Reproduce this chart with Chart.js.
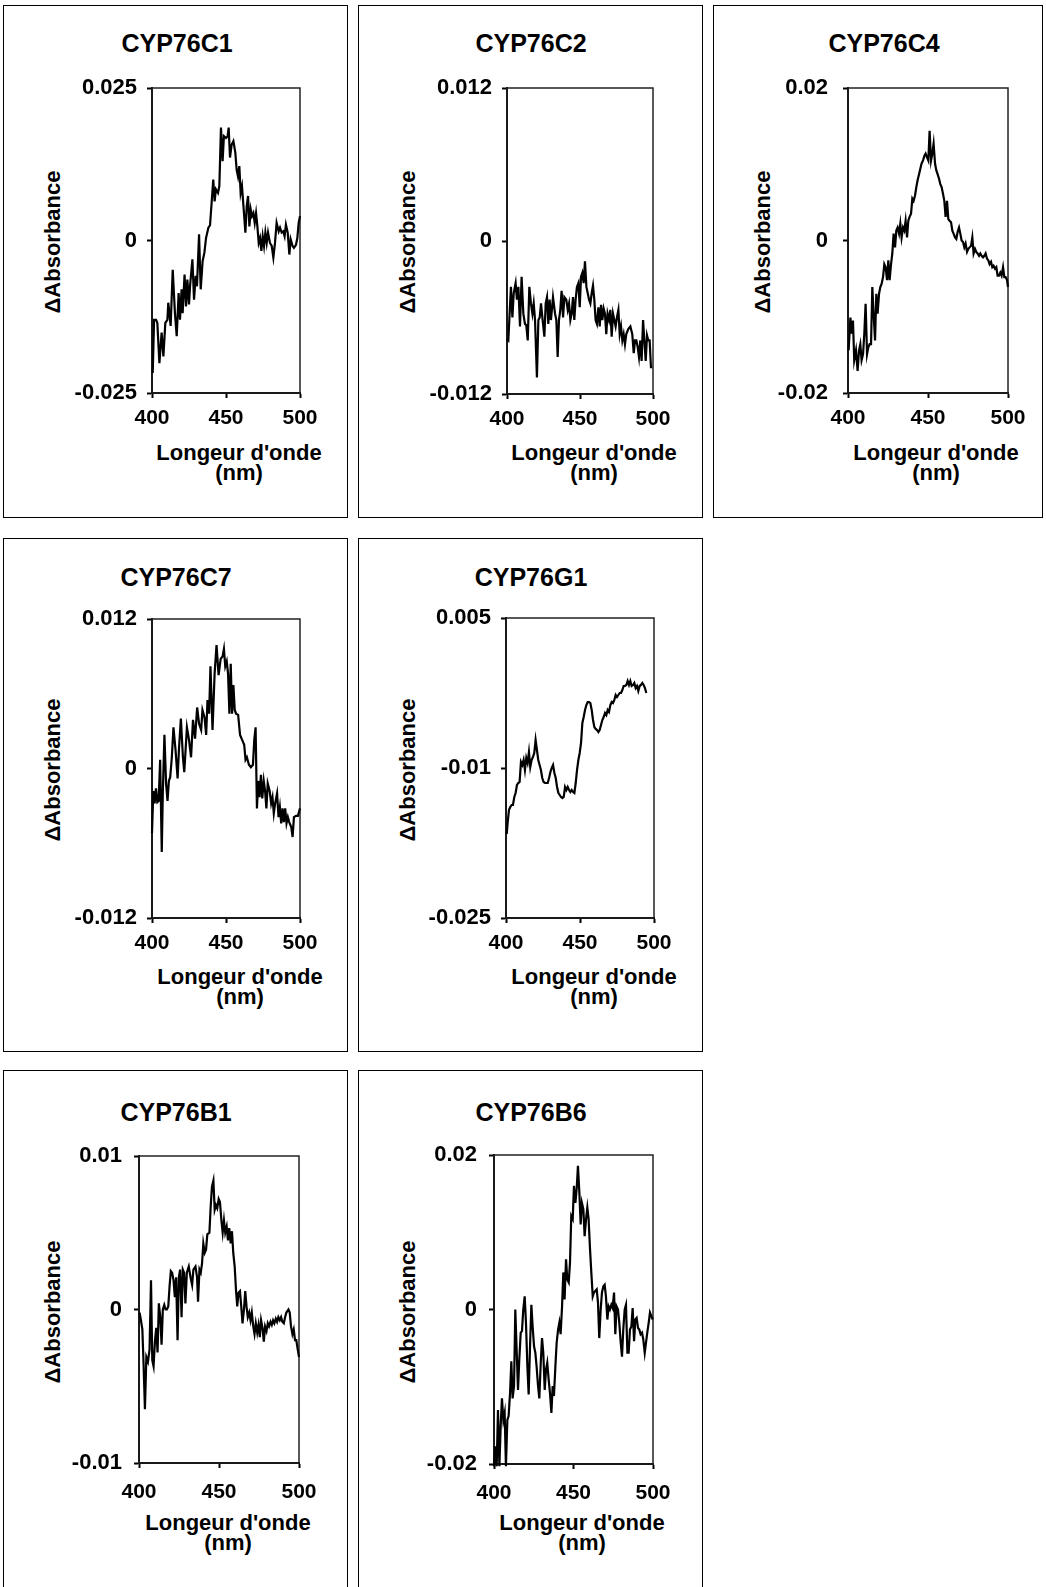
<!DOCTYPE html>
<html>
<head>
<meta charset="utf-8">
<script src="https://cdn.jsdelivr.net/npm/chart.js@4.4.0/dist/chart.umd.min.js"></script>
<style>
  html, body { margin: 0; padding: 0; background: #fff; }
  body { width: 1046px; height: 1587px; position: relative; overflow: hidden;
         font-family: "Liberation Sans", Arial, sans-serif; font-weight: bold; color: #000; }
  .box { position: absolute; border: 1.5px solid #000; box-sizing: border-box; }
  .txt { position: absolute; white-space: nowrap; transform: translate(-50%, -50%); }
  .ttl { font-size: 25px; }
  .xt { font-size: 22px; line-height: 20px; text-align: center; transform: translateX(-50%); }
  .yt { font-size: 22px; transform: translate(-50%, -50%) rotate(-90deg); }
  canvas { position: absolute; }
</style>
</head>
<body>
<script>
// longueur d'onde (nm) / delta absorbance
const xTicks = [400, 450, 500];

const yTicks_C1 = [-0.025, 0, 0.025];
const yTicks_C2 = [-0.012, 0, 0.012];
const yTicks_C4 = [-0.02, 0, 0.02];
const yTicks_C7 = [-0.012, 0, 0.012];
const yTicks_G1 = [-0.025, -0.01, 0.005];
const yTicks_B1 = [-0.01, 0, 0.01];
const yTicks_B6 = [-0.02, 0, 0.02];

const CYP76C1 = [[400.5,-0.0217],[401.4,-0.0130],[402.7,-0.0130],[403.6,-0.0135],[405,-0.0201],[406.5,-0.0151],[407.7,-0.0190],[409,-0.0135],[410.4,-0.0130],[411,-0.0102],[412.6,-0.0140],[414,-0.0048],[415.5,-0.0119],[416.7,-0.0157],[418,-0.0086],[418.9,-0.0130],[420,-0.0080],[420.7,-0.0119],[422,-0.0056],[423,-0.0108],[423.9,-0.0064],[425,-0.0105],[425.7,-0.0075],[427.3,-0.0031],[428.4,-0.0097],[429.5,-0.0058],[430.4,-0.0075],[431.8,0.0010],[432.9,-0.0080],[434.2,-0.0034],[435.4,-0.0020],[436.5,0.0004],[438.1,0.0021],[439.2,0.0025],[440.3,0.0062],[441.4,0.0100],[442.3,0.0064],[443.2,0.0084],[444.6,0.0078],[445.5,0.0089],[446.6,0.0185],[447.7,0.0130],[448.6,0.0171],[450,0.0168],[451.1,0.0171],[451.8,0.0185],[452.7,0.0136],[453.8,0.0157],[455,0.0163],[456.3,0.0144],[457.2,0.0116],[458.1,0.0105],[459,0.0122],[459.9,0.0078],[460.8,0.0089],[462.2,0.0043],[463.1,0.0013],[464,0.0056],[464.9,0.0073],[465.8,0.0023],[466.7,0.0051],[467.6,0.0040],[468.5,0.0045],[469.4,0.0029],[470.3,0.0045],[471.2,0.0023],[472.1,-0.0004],[473,0.0004],[473.9,-0.0017],[474.8,0.0007],[475.7,-0.0009],[476.6,0.0013],[477.5,-0.0004],[478.4,0.0013],[479.7,-0.0004],[480.9,-0.0009],[482,-0.0028],[483.1,-0.0004],[484.2,0.0029],[485.6,0.0015],[486.5,0.0021],[487.6,0.0013],[488.7,0.0015],[489.6,0.0007],[490.5,0.0026],[491.7,0.0013],[492.8,-0.0023],[493.7,0.0002],[495,-0.0009],[495.9,-0.0012],[497.3,-0.0007],[498.2,0.0004],[499.1,0.0029],[500,0.0040]];

const CYP76C2 = [[400,-0.0077],[400.9,-0.0078],[401.8,-0.0057],[402.7,-0.0036],[403.7,-0.0060],[404.6,-0.0041],[405.9,-0.0033],[406.8,-0.0046],[407.8,-0.0036],[408.9,-0.0067],[410,-0.0028],[411.2,-0.0057],[412.3,-0.0065],[413.2,-0.0066],[414.2,-0.0078],[415.3,-0.0036],[416.4,-0.0049],[417.4,-0.0057],[418.3,-0.0049],[419.2,-0.0062],[420.5,-0.0107],[421.5,-0.0062],[422.4,-0.0060],[423.3,-0.0049],[424.4,-0.0062],[425.6,-0.0075],[426.5,-0.0049],[427.4,-0.0044],[428.3,-0.0065],[429.2,-0.0046],[430.1,-0.0062],[431.5,-0.0044],[432.9,-0.0057],[433.8,-0.0062],[434.7,-0.0091],[435.6,-0.0062],[436.5,-0.0054],[437.4,-0.0039],[438.4,-0.0060],[439.3,-0.0044],[440.6,-0.0046],[441.6,-0.0054],[442.5,-0.0049],[443.4,-0.0062],[444.3,-0.0057],[445.2,-0.0044],[446.1,-0.0062],[447,-0.0046],[447.9,-0.0036],[448.9,-0.0033],[449.8,-0.0052],[450.7,-0.0028],[451.6,-0.0025],[452.5,-0.0033],[453.4,-0.0016],[454.4,-0.0036],[455.3,-0.0041],[456.2,-0.0046],[457.1,-0.0049],[458,-0.0041],[458.9,-0.0035],[459.8,-0.0046],[460.7,-0.0062],[461.6,-0.0065],[462.6,-0.0052],[463.5,-0.0067],[464.4,-0.0050],[465.3,-0.0062],[466.2,-0.0053],[467.1,-0.0057],[468,-0.0073],[468.9,-0.0057],[469.9,-0.0062],[470.8,-0.0054],[471.7,-0.0075],[472.6,-0.0057],[473.5,-0.0062],[474.4,-0.0067],[475.3,-0.0060],[476.3,-0.0054],[477.2,-0.0073],[478.1,-0.0067],[479,-0.0078],[479.9,-0.0073],[480.8,-0.0081],[481.7,-0.0073],[483.1,-0.0069],[484.5,-0.0067],[485.8,-0.0073],[486.8,-0.0088],[487.7,-0.0078],[488.6,-0.0078],[489.5,-0.0083],[490.4,-0.0091],[491.3,-0.0078],[492.2,-0.0094],[493.2,-0.0062],[494.1,-0.0078],[495,-0.0094],[495.9,-0.0074],[496.8,-0.0078],[497.7,-0.0078],[498.6,-0.0099],[499.5,-0.0099]];

const CYP76C4 = [[400.4,-0.0144],[401.5,-0.0101],[402.3,-0.0122],[403.1,-0.0105],[403.9,-0.0157],[405,-0.0144],[406,-0.0171],[406.9,-0.0144],[407.7,-0.0136],[408.5,-0.0157],[409.4,-0.0149],[410.2,-0.0122],[411,-0.0083],[411.9,-0.0149],[412.7,-0.0140],[413.5,-0.0136],[414.4,-0.0136],[415.2,-0.0061],[416,-0.0096],[416.9,-0.0131],[417.7,-0.0070],[418.5,-0.0096],[419.4,-0.0070],[420.2,-0.0061],[421,-0.0057],[421.9,-0.0048],[422.7,-0.0031],[423.5,-0.0035],[424.4,-0.0052],[425.2,-0.0026],[426,-0.0052],[426.9,-0.0031],[427.7,-0.0017],[428.5,0.0009],[429.4,-0.0009],[430.2,0.0013],[431,0.0017],[431.9,0.0009],[432.7,0.0022],[433.5,0.0004],[434.4,0.0017],[435.2,0.0013],[436,0.0026],[436.9,0.0004],[437.7,0.0026],[438.5,0.0031],[439.4,0.0035],[440.2,0.0055],[441,0.0052],[441.9,0.0059],[442.7,0.0070],[443.5,0.0079],[444.4,0.0087],[445.2,0.0094],[446,0.0101],[446.9,0.0105],[447.7,0.0111],[448.5,0.0114],[449.4,0.0109],[450.2,0.0105],[451,0.0144],[451.9,0.0105],[452.7,0.0114],[453.5,0.0127],[454.4,0.0101],[455.2,0.0092],[456,0.0087],[456.9,0.0081],[457.7,0.0074],[458.5,0.0070],[459.4,0.0061],[460.2,0.0052],[461,0.0031],[461.9,0.0052],[462.7,0.0028],[463.5,0.0026],[464.4,0.0024],[465.2,0.0013],[466,0.0009],[466.9,0.0004],[467.7,0.0002],[468.5,0.0011],[469.4,0.0017],[470.2,0.0009],[471,0.0000],[471.9,-0.0002],[472.7,-0.0009],[473.5,-0.0004],[474.4,-0.0015],[475.2,-0.0011],[476,-0.0009],[476.9,-0.0007],[477.7,0.0004],[478.5,-0.0017],[479.4,-0.0011],[480.2,-0.0015],[481,-0.0017],[481.9,-0.0020],[482.7,-0.0017],[483.5,-0.0020],[484.4,-0.0022],[485.2,-0.0020],[486,-0.0017],[486.9,-0.0024],[487.7,-0.0026],[488.5,-0.0031],[489.4,-0.0028],[490.2,-0.0035],[491,-0.0033],[491.9,-0.0037],[492.7,-0.0035],[493.5,-0.0046],[494.4,-0.0046],[495.2,-0.0042],[496,-0.0046],[496.9,-0.0035],[497.7,-0.0048],[498.5,-0.0048],[499.4,-0.0052],[500,-0.0061]];

const CYP76C7 = [[400,-0.0052],[400.9,-0.0018],[401.8,-0.0028],[402.7,-0.0016],[403.6,-0.0027],[404.5,-0.0026],[405.5,0.0007],[406.6,-0.0067],[407.3,-0.0020],[408.4,0.0027],[409.5,-0.0012],[410.5,-0.0026],[411.4,-0.0010],[412.3,-0.0007],[413.4,0.0009],[414.5,0.0033],[415.9,0.0015],[417.3,-0.0008],[418.2,0.0015],[419.5,0.0040],[420.9,0.0009],[421.8,-0.0003],[422.7,0.0015],[423.6,0.0033],[425,0.0023],[426.4,0.0009],[427.7,0.0039],[429.1,0.0024],[430.5,0.0049],[431.8,0.0036],[433.2,0.0031],[434.1,0.0047],[435.5,0.0041],[436.6,0.0027],[437.5,0.0055],[438.6,0.0044],[439.5,0.0082],[440.9,0.0031],[442.3,0.0076],[443.6,0.0099],[445,0.0075],[446.4,0.0088],[447.7,0.0090],[448.6,0.0096],[449.5,0.0082],[450.5,0.0086],[451.4,0.0076],[452.3,0.0044],[453.2,0.0084],[454.1,0.0044],[455,0.0067],[455.9,0.0047],[456.8,0.0044],[458.2,0.0043],[459.5,0.0027],[460.9,0.0023],[462.3,0.0019],[463.2,0.0007],[464.1,0.0009],[465.5,0.0003],[466.8,0.0001],[468.2,0.0003],[469.1,0.0023],[470,0.0033],[470.9,-0.0032],[471.8,-0.0010],[472.7,-0.0023],[473.6,-0.0005],[474.5,-0.0024],[475.5,-0.0010],[476.4,-0.0018],[477.3,-0.0032],[478.2,-0.0012],[479.5,-0.0018],[480.5,-0.0028],[481.4,-0.0023],[482.3,-0.0036],[483.2,-0.0028],[484.5,-0.0020],[485.5,-0.0039],[486.4,-0.0031],[487.3,-0.0044],[488.2,-0.0032],[489.1,-0.0043],[490,-0.0032],[490.9,-0.0044],[491.8,-0.0039],[492.7,-0.0043],[494.1,-0.0047],[495,-0.0055],[495.9,-0.0039],[497.3,-0.0038],[498.6,-0.0038],[500,-0.0032]];

const CYP76G1 = [[400.5,-0.0166],[401.1,-0.0155],[402,-0.0142],[402.9,-0.0139],[403.8,-0.0137],[404.7,-0.0137],[405.6,-0.0129],[406.5,-0.0125],[407.4,-0.0117],[408.3,-0.0115],[409.2,-0.0114],[410.1,-0.0094],[411,-0.0097],[411.9,-0.0092],[412.8,-0.0102],[413.7,-0.0090],[414.6,-0.0095],[415.5,-0.0084],[416.4,-0.0099],[417.3,-0.0092],[418.2,-0.0089],[419.1,-0.0085],[420,-0.0072],[420.9,-0.0082],[421.8,-0.0092],[422.7,-0.0097],[423.6,-0.0102],[424.5,-0.0110],[425.4,-0.0114],[426.4,-0.0115],[427.3,-0.0115],[428.2,-0.0115],[429.1,-0.0110],[430,-0.0104],[430.9,-0.0100],[431.8,-0.0097],[432.7,-0.0105],[433.6,-0.0110],[434.5,-0.0119],[435.4,-0.0125],[436.3,-0.0127],[437.2,-0.0129],[438.1,-0.0130],[439,-0.0129],[439.9,-0.0119],[440.8,-0.0122],[441.7,-0.0119],[442.6,-0.0122],[443.5,-0.0124],[444.4,-0.0122],[445.3,-0.0124],[446.2,-0.0125],[447.1,-0.0115],[448,-0.0102],[448.9,-0.0092],[449.8,-0.0085],[450.7,-0.0075],[451.6,-0.0055],[452.5,-0.0049],[453.4,-0.0042],[454.3,-0.0037],[455.2,-0.0034],[456.1,-0.0034],[457,-0.0035],[457.9,-0.0042],[458.8,-0.0052],[459.7,-0.0059],[460.6,-0.0061],[461.5,-0.0062],[462.4,-0.0064],[463.3,-0.0062],[464.2,-0.0057],[465.1,-0.0052],[466,-0.0049],[466.9,-0.0045],[467.8,-0.0047],[468.7,-0.0042],[469.6,-0.0044],[470.5,-0.0037],[471.4,-0.0034],[472.3,-0.0035],[473.2,-0.0032],[474.1,-0.0027],[475,-0.0029],[475.9,-0.0027],[476.8,-0.0025],[477.7,-0.0025],[478.6,-0.0022],[479.5,-0.0018],[480.4,-0.0018],[481.3,-0.0017],[482.2,-0.0013],[483.1,-0.0017],[484,-0.0013],[484.9,-0.0018],[485.8,-0.0017],[486.7,-0.0015],[487.6,-0.0020],[488.5,-0.0018],[489.4,-0.0023],[490.3,-0.0018],[491.2,-0.0017],[492.1,-0.0015],[493,-0.0017],[493.9,-0.0020],[494.8,-0.0025]];

const CYP76B1 = [[400.4,-0.0002],[401.2,-0.0007],[402.1,-0.0013],[402.9,-0.0037],[403.7,-0.0065],[404.6,-0.0031],[405.6,-0.0034],[406.6,-0.0026],[407.5,0.0019],[408.3,-0.0033],[409.1,-0.0037],[410,-0.0020],[410.8,-0.0012],[411.6,-0.0028],[412.4,0.0004],[413.3,-0.0005],[414.1,-0.0023],[414.9,0.0000],[415.8,0.0003],[416.6,0.0000],[417.4,0.0000],[418.3,0.0002],[419.1,0.0015],[419.9,0.0025],[420.7,0.0024],[421.6,0.0019],[422.4,0.0008],[423.2,0.0021],[424.1,-0.0020],[424.9,0.0021],[425.7,0.0026],[426.6,-0.0005],[427.4,0.0026],[428.2,0.0024],[429,0.0004],[429.9,0.0024],[431.1,0.0028],[432.2,0.0021],[433.2,0.0016],[434,0.0026],[435.3,0.0028],[436.3,0.0021],[436.9,0.0005],[437.8,0.0026],[438.6,0.0024],[439.4,0.0030],[440.2,0.0043],[441.1,0.0037],[441.9,0.0039],[442.7,0.0049],[444,0.0050],[444.8,0.0067],[445.6,0.0080],[446.5,0.0084],[447.3,0.0065],[448.1,0.0068],[448.9,0.0066],[449.8,0.0072],[450.6,0.0070],[451.5,0.0058],[452.3,0.0050],[453.1,0.0058],[453.9,0.0050],[454.8,0.0054],[455.6,0.0045],[456.4,0.0053],[457.3,0.0043],[458.1,0.0051],[458.9,0.0037],[459.8,0.0028],[460.6,0.0013],[461.4,0.0002],[462.2,0.0011],[463.1,0.0012],[463.9,0.0002],[464.7,-0.0009],[465.6,0.0000],[466.4,0.0012],[467.2,0.0002],[468,-0.0005],[468.9,-0.0002],[469.7,-0.0007],[470.5,-0.0002],[471.4,-0.0011],[472.2,-0.0016],[473,-0.0009],[473.9,-0.0015],[474.7,-0.0010],[475.5,-0.0018],[476.3,-0.0007],[477.2,-0.0012],[478,-0.0021],[478.8,-0.0011],[479.7,-0.0014],[480.5,-0.0009],[481.3,-0.0011],[482.2,-0.0008],[483,-0.0010],[483.8,-0.0007],[484.6,-0.0009],[485.5,-0.0006],[486.3,-0.0008],[487.1,-0.0005],[488,-0.0007],[488.8,-0.0005],[489.6,-0.0008],[490.5,-0.0009],[491.3,-0.0005],[492.1,-0.0002],[493.4,0.0000],[494.2,-0.0002],[495,-0.0011],[495.9,-0.0016],[496.7,-0.0013],[497.5,-0.0020],[498.3,-0.0020],[499.2,-0.0026],[500,-0.0031]];

const CYP76B6 = [[400,-0.0203],[400.8,-0.0177],[401.7,-0.0203],[402.5,-0.0130],[403.4,-0.0203],[404.2,-0.0151],[405,-0.0115],[405.9,-0.0143],[406.7,-0.0134],[407.5,-0.0203],[408.4,-0.0143],[409.2,-0.0138],[410.1,-0.0108],[410.9,-0.0067],[411.7,-0.0115],[412.6,-0.0099],[413.4,0.0000],[414.3,-0.0056],[415.1,-0.0104],[415.9,-0.0065],[416.8,-0.0030],[417.6,-0.0028],[418.4,0.0000],[419.3,0.0017],[420.1,-0.0017],[421,-0.0074],[421.8,-0.0110],[422.6,-0.0052],[423.5,0.0006],[424.3,-0.0022],[425.2,-0.0048],[426,-0.0056],[426.8,-0.0074],[427.7,-0.0099],[428.5,-0.0115],[429.4,-0.0069],[430.2,-0.0037],[431,-0.0056],[431.9,-0.0104],[432.7,-0.0078],[433.5,-0.0069],[434.4,-0.0091],[435.2,-0.0108],[436.1,-0.0134],[436.9,-0.0099],[437.7,-0.0112],[438.6,-0.0074],[439.4,-0.0043],[440.3,-0.0026],[441.1,-0.0017],[441.9,-0.0032],[442.8,0.0004],[443.6,0.0048],[444.4,0.0013],[445.3,0.0065],[446.1,0.0039],[447,0.0035],[447.8,0.0061],[448.6,0.0121],[449.5,0.0117],[450.3,0.0160],[451.2,0.0138],[452,0.0156],[452.8,0.0186],[453.7,0.0151],[454.5,0.0110],[455.3,0.0138],[456.2,0.0130],[457,0.0095],[457.9,0.0117],[458.7,0.0132],[459.5,0.0117],[460.4,0.0078],[461.2,0.0048],[462.1,0.0017],[462.9,0.0022],[463.7,0.0024],[464.6,0.0026],[465.4,0.0009],[466.2,-0.0037],[467.1,0.0000],[467.9,0.0022],[468.8,0.0030],[469.6,0.0032],[470.4,0.0017],[471.3,-0.0013],[472.1,0.0004],[472.9,0.0000],[473.8,0.0006],[474.6,0.0002],[475.5,0.0022],[476.3,-0.0032],[477.1,0.0004],[478,0.0000],[478.8,-0.0017],[479.7,-0.0043],[480.5,-0.0061],[481.3,-0.0026],[482.2,0.0000],[483,0.0006],[483.9,-0.0056],[484.7,-0.0056],[485.5,-0.0026],[486.4,-0.0022],[487.2,0.0002],[488.1,-0.0041],[488.9,-0.0013],[489.7,-0.0011],[490.6,-0.0024],[491.4,-0.0026],[492.2,-0.0032],[493.1,-0.0030],[493.9,-0.0039],[494.8,-0.0056],[495.6,-0.0043],[496.4,-0.0030],[497.3,-0.0017],[498.1,-0.0004],[499,-0.0009],[499.8,-0.0013]];

// mise en page : cadre, zone du graphe, positions des textes
const layout = [
  { name: 'CYP76C1', data: CYP76C1, ticks: yTicks_C1, box: [3, 5, 345, 513], plot: [152, 88, 300, 393], title: [177, 43], xt: [239, 453], yt: [53, 242], yPad: 10, xPad: 8 },
  { name: 'CYP76C2', data: CYP76C2, ticks: yTicks_C2, box: [358, 5, 345, 513], plot: [507, 88, 653, 394], title: [531, 43], xt: [594, 453], yt: [408, 242], yPad: 10, xPad: 8 },
  { name: 'CYP76C4', data: CYP76C4, ticks: yTicks_C4, box: [713, 5, 330, 513], plot: [848, 88, 1008, 393], title: [884, 43], xt: [936, 453], yt: [763, 242], yPad: 15, xPad: 8 },
  { name: 'CYP76C7', data: CYP76C7, ticks: yTicks_C7, box: [3, 538, 345, 514], plot: [152, 619, 300, 918], title: [176, 577], xt: [240, 977], yt: [53, 770], yPad: 10, xPad: 8 },
  { name: 'CYP76G1', data: CYP76G1, ticks: yTicks_G1, box: [358, 538, 345, 514], plot: [506, 618, 654, 918], title: [531, 577], xt: [594, 977], yt: [408, 770], yPad: 10, xPad: 8 },
  { name: 'CYP76B1', data: CYP76B1, ticks: yTicks_B1, box: [3, 1070, 345, 540], plot: [139, 1156, 299, 1463], title: [176, 1112], xt: [228, 1523], yt: [53, 1312], yPad: 12, xPad: 12 },
  { name: 'CYP76B6', data: CYP76B6, ticks: yTicks_B6, box: [358, 1070, 345, 540], plot: [494, 1155, 653, 1464], title: [531, 1112], xt: [582, 1523], yt: [408, 1312], yPad: 12, xPad: 12 }
];

const FONT = '"Liberation Sans", Arial, sans-serif';
const YW = 90, XH = 55, PT = 42, PR = 30;

Chart.defaults.font.family = FONT;
Chart.defaults.font.weight = 'bold';
Chart.defaults.color = '#000';

// cadre haut/droite de la zone de tracé
const plotFrame = {
  id: 'plotFrame',
  beforeDatasetsDraw(chart) {
    const a = chart.chartArea, ctx = chart.ctx;
    ctx.save();
    ctx.strokeStyle = '#222';
    ctx.lineWidth = 1.5;
    ctx.strokeRect(a.left, a.top, a.right - a.left, a.bottom - a.top);
    ctx.restore();
  }
};

function addText(cls, x, y, html) {
  const d = document.createElement('div');
  d.className = 'txt ' + cls;
  d.style.left = x + 'px';
  d.style.top = y + 'px';
  d.innerHTML = html;
  document.body.appendChild(d);
}

layout.forEach(function (p) {
  const box = document.createElement('div');
  box.className = 'box';
  box.style.left = p.box[0] + 'px';
  box.style.top = p.box[1] + 'px';
  box.style.width = p.box[2] + 'px';
  box.style.height = p.box[3] + 'px';
  document.body.appendChild(box);

  addText('ttl', p.title[0], p.title[1], p.name);
  addText('yt', p.yt[0], p.yt[1], '\u0394Absorbance');
  addText('xt', p.xt[0], p.xt[1] - 10, "Longeur d'onde<br>(nm)");

  const w = p.plot[2] - p.plot[0], h = p.plot[3] - p.plot[1];
  const cv = document.createElement('canvas');
  cv.width = YW + w + PR;
  cv.height = PT + h + XH;
  cv.style.left = (p.plot[0] - YW) + 'px';
  cv.style.top = (p.plot[1] - PT) + 'px';
  document.body.appendChild(cv);

  const labels = p.ticks.map(v => String(v));

  new Chart(cv, {
    type: 'line',
    data: {
      datasets: [{
        data: p.data.map(d => ({ x: d[0], y: d[1] })),
        borderColor: '#000',
        borderWidth: 2.2,
        pointRadius: 0,
        tension: 0,
        clip: false
      }]
    },
    options: {
      responsive: false,
      animation: false,
      events: [],
      layout: { padding: { top: PT, right: PR, left: 0, bottom: 0 } },
      plugins: { legend: { display: false }, tooltip: { enabled: false } },
      scales: {
        x: {
          type: 'linear',
          min: xTicks[0],
          max: xTicks[xTicks.length - 1],
          afterBuildTicks: s => { s.ticks = xTicks.map(v => ({ value: v })); },
          afterFit: s => { s.height = XH; },
          grid: { drawOnChartArea: false, tickLength: 5, tickWidth: 2, tickColor: '#000' },
          border: { color: '#000', width: 2 },
          ticks: { font: { size: 21, weight: 'bold' }, color: '#000', padding: p.xPad, maxRotation: 0, autoSkip: false }
        },
        y: {
          min: p.ticks[0],
          max: p.ticks[p.ticks.length - 1],
          afterBuildTicks: s => { s.ticks = p.ticks.map(v => ({ value: v })); },
          afterFit: s => { s.width = YW; },
          grid: { drawOnChartArea: false, tickLength: 5, tickWidth: 2, tickColor: '#000' },
          border: { color: '#000', width: 2 },
          ticks: { font: { size: 22, weight: 'bold' }, color: '#000', padding: p.yPad, autoSkip: false,
                   callback: (v, i) => labels[i] }
        }
      }
    },
    plugins: [plotFrame]
  });
});
</script>
</body>
</html>
